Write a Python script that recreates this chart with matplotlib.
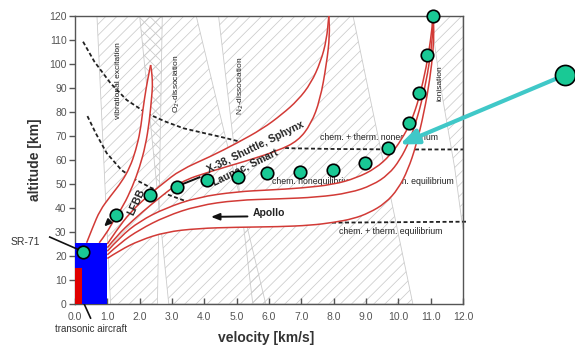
import numpy as np
import matplotlib
matplotlib.use('Agg')
import matplotlib.pyplot as plt
from matplotlib.patches import Polygon, Rectangle, PathPatch
from matplotlib.path import Path

plt.rcParams['font.family'] = ['Liberation Sans', 'DejaVu Sans']
plt.rcParams['hatch.linewidth'] = 0.55

# --- flight data points (velocity km/s, altitude km) ---
dots_v = [0.24, 1.27, 2.32, 3.15, 4.07, 5.05, 5.93, 6.96, 7.98, 8.97, 9.69, 10.33, 10.65, 10.9, 11.08]
dots_h = [21.8, 36.9, 45.4, 48.9, 51.7, 53.0, 54.4, 55.0, 55.8, 58.9, 64.9, 75.4, 87.8, 103.7, 120.0]

# --- corridor boundary lines ---
lfbb_left_v = [0.36, 0.55, 0.77, 1.1, 1.45, 1.7, 1.88, 2.02, 2.1, 2.2, 2.3, 2.34]
lfbb_left_h = [25.5, 32, 39, 45, 51, 57, 64, 72, 81, 90, 97, 99.6]
lfbb_right_v = [0.75, 0.98, 1.2, 1.5, 1.78, 2.0, 2.18, 2.3, 2.37, 2.4, 2.38, 2.34]
lfbb_right_h = [25.5, 29.5, 35, 41, 49, 57, 66, 76, 86, 91, 96, 99.6]

x38_up_v = [1.0, 1.3, 1.7, 2.2, 2.7, 3.25, 4.2, 5.0, 5.8, 6.4, 6.9, 7.3, 7.6, 7.78, 7.85]
x38_up_h = [25.0, 31.0, 38.0, 44.5, 50.0, 55.8, 61.5, 67.0, 73.0, 79.0, 85.0, 92.0, 101.0, 110.0, 120.0]
x38_lo_v = [1.0, 1.3, 1.8, 2.4, 3.25, 4.2, 5.3, 6.3, 6.9, 7.3, 7.58, 7.78, 7.88, 7.85]
x38_lo_h = [23.5, 28.5, 35.0, 42.0, 51.0, 55.3, 59.6, 64.0, 68.0, 75.0, 85.0, 100.0, 112.0, 120.0]

inner_v = [1.0, 1.4, 2.0, 2.8, 3.8, 5.0, 6.0, 7.0, 8.0, 8.7, 9.3, 9.75, 10.1, 10.4, 10.65, 10.87, 11.0, 11.08]
inner_h = [22.0, 28.0, 34.5, 40.0, 44.5, 46.8, 47.5, 48.3, 49.8, 52.5, 56.5, 62.0, 68.5, 76.0, 86.0, 99.0, 110.0, 120.0]
apollo_up_v = [1.0, 1.4, 2.0, 2.8, 3.8, 5.0, 6.3, 7.5, 8.5, 9.2, 9.7, 10.05, 10.35, 10.6, 10.82, 10.98, 11.06, 11.08]
apollo_up_h = [20.5, 25.5, 31.0, 36.5, 41.0, 43.3, 43.8, 44.5, 46.3, 49.5, 54.0, 60.0, 68.0, 78.0, 90.0, 102.0, 112.0, 120.0]
apollo_lo_v = [1.0, 1.4, 2.0, 2.8, 3.8, 5.0, 6.3, 7.3, 8.0, 8.6, 9.1, 9.6, 10.0, 10.3, 10.55, 10.8, 10.98, 11.08, 11.1, 11.08]
apollo_lo_h = [19.0, 22.5, 26.5, 30.0, 31.5, 32.0, 32.2, 32.8, 34.0, 35.5, 38.0, 42.0, 48.0, 56.0, 66.0, 80.0, 94.0, 106.0, 114.0, 120.0]

# --- regime boundaries (dashed) ---
dash_upper_v = [0.25, 0.6, 1.1, 1.6, 2.23, 2.8, 3.36, 4.0, 4.49, 5.0, 5.63, 6.2, 6.65, 8.0, 10.0, 12.0]
dash_upper_h = [109.3, 101.0, 92.0, 85.0, 79.4, 76.0, 73.2, 71.2, 69.7, 68.0, 66.3, 65.4, 64.9, 64.6, 64.4, 64.4]
dash_left_v = [0.385, 0.645, 0.985, 1.44, 1.89, 2.34, 2.91, 3.4, 3.85]
dash_left_h = [78.3, 71.1, 62.8, 55.8, 51.7, 48.5, 45.4, 43.0, 41.0]
dash_right_v = [7.95, 10.0, 12.1]
dash_right_h = [33.9, 34.1, 34.3]

# --- physical regime bands (hatched) ---
bands = {
    'vib': ([0.68, 2.7, 2.55, 1.1], [120, 120, 0, 0]),
    'o2': ([2.0, 3.75, 5.9, 2.9], [120, 120, 0, 0]),
    'n2': ([4.44, 8.6, 10.45, 5.5], [120, 120, 0, 0]),
    'ion': ([11.0, 12.0, 12.0, 11.74, 11.29], [120, 120, 31, 57, 92]),
}


def curve_parts(v, h):
    """Quadratic bezier path through the midpoints of the given points."""
    pts = np.column_stack([v, h]).astype(float)
    verts = [pts[0]]
    codes = [Path.MOVETO]
    for i in range(1, len(pts) - 1):
        verts += [pts[i], (pts[i] + pts[i + 1]) / 2]
        codes += [Path.CURVE3, Path.CURVE3]
    verts.append(pts[-1])
    codes.append(Path.LINETO)
    return verts, codes


def curve(v, h):
    verts, codes = curve_parts(v, h)
    return Path(verts, codes)


fig = plt.figure(figsize=(5.75, 3.49), dpi=100)
ax = fig.add_axes([0.1304, 0.1289, 0.6748, 0.8252])
ax.set_xlim(0, 12)
ax.set_ylim(0, 120)

for name, (bv, bh) in bands.items():
    ax.add_patch(Polygon(np.column_stack([bv, bh]), closed=True, facecolor='none',
                         edgecolor='#cbcbcb', hatch='///', linewidth=0.6, zorder=1))
# cross-hatch where vibrational and O2 regions overlap
ax.add_patch(Polygon([[2.0, 120], [2.7, 120], [2.62, 40], [2.6, 40]], closed=True,
                     facecolor='none', edgecolor='#cbcbcb', hatch='\\\\\\', linewidth=0, zorder=1))

ax.text(1.36, 93, 'vibrational excitation', rotation=90, fontsize=6, ha='center', va='center', color='#222', zorder=2)
ax.text(3.15, 92, 'O$_2$-dissociation', rotation=90, fontsize=6, ha='center', va='center', color='#222', zorder=2)
ax.text(5.12, 91, 'N$_2$-dissociation', rotation=90, fontsize=6, ha='center', va='center', color='#222', zorder=2)
ax.text(11.3, 92, 'ionisation', rotation=90, fontsize=6, ha='center', va='center', color='#222', zorder=2)

ax.text(9.4, 69.5, 'chem. + therm. nonequilibrium', fontsize=6.3, ha='center', va='center', color='#222', zorder=2)
ax.text(6.08, 51.0, 'chem. nonequilibrium', fontsize=6.3, ha='left', va='center', color='#222', zorder=2)
ax.text(11.72, 51.0, 'chem. equilibrium', fontsize=6.3, ha='right', va='center', color='#222', zorder=2)
ax.text(9.75, 30.4, 'chem. + therm. equilibrium', fontsize=6.3, ha='center', va='center', color='#222', zorder=2)

dash_kw = dict(color='#222', lw=1.3, dashes=(2.2, 1.4), zorder=2.5)
ax.plot(dash_upper_v, dash_upper_h, **dash_kw)
ax.plot(dash_left_v, dash_left_h, **dash_kw)
ax.plot(dash_right_v, dash_right_h, clip_on=False, **dash_kw)


# white corridors
def corridor(av, ah, bv, bh):
    va_, ca = curve_parts(av, ah)
    vb, cb = curve_parts(bv[::-1], bh[::-1])
    cb[0] = Path.LINETO
    path = Path(va_ + vb + [va_[0]], ca + cb + [Path.CLOSEPOLY])
    ax.add_patch(PathPatch(path, facecolor='white', edgecolor='none', zorder=3))


corridor(lfbb_left_v, lfbb_left_h, lfbb_right_v, lfbb_right_h)
corridor(x38_up_v, x38_up_h, x38_lo_v, x38_lo_h)
corridor(inner_v, inner_h, apollo_lo_v, apollo_lo_h)

red = '#d23a36'
for lv, lh in [(lfbb_left_v, lfbb_left_h), (lfbb_right_v, lfbb_right_h),
               (x38_up_v, x38_up_h), (x38_lo_v, x38_lo_h),
               (inner_v, inner_h), (apollo_up_v, apollo_up_h), (apollo_lo_v, apollo_lo_h)]:
    ax.add_patch(PathPatch(curve(lv, lh), facecolor='none', edgecolor=red, lw=1.1, zorder=4))

# aircraft envelopes
ax.add_patch(Rectangle((0, 0), 1.0, 25.5, facecolor='#0000ff', edgecolor='none', zorder=5))
ax.add_patch(Rectangle((0, 0), 0.22, 15, facecolor='#e00000', edgecolor='none', zorder=5))

# labels of corridors
ax.text(5.6, 65.4, 'X-38, Shuttle, Sphynx', rotation=26, fontsize=7.5, fontweight='bold',
        ha='center', va='center', color='#222', zorder=6)
ax.text(5.25, 57.0, 'Launac, Smart', rotation=26, fontsize=7.5, fontweight='bold',
        ha='center', va='center', color='#222', zorder=6)
ax.text(1.9, 42.5, 'LFBB', rotation=65, fontsize=7.5, fontweight='bold',
        ha='center', va='center', color='#222', zorder=6)
ax.text(5.5, 37.8, 'Apollo', fontsize=7.5, fontweight='bold', ha='left', va='center', color='#222', zorder=6)
ax.annotate('', xy=(4.12, 36.3), xytext=(5.42, 36.5),
            arrowprops=dict(arrowstyle='-|>,head_length=0.5,head_width=0.2', color='#111', lw=1.4), zorder=6)
ax.annotate('', xy=(0.84, 31.5), xytext=(1.12, 35.2),
            arrowprops=dict(arrowstyle='-|>,head_length=0.4,head_width=0.18', color='#111', lw=1.4), zorder=6)
ax.plot([3.28, 3.85], [49.7, 52.8], color='#111', lw=1.4, zorder=6)

ax.plot(dots_v, dots_h, 'o', ms=9, mfc='#19c995', mec='black', mew=1.2, clip_on=False, zorder=7)

# outside annotations
ax.plot([-0.78, 0.12], [27.9, 22.6], color='#111', lw=1.2, clip_on=False, zorder=6)
ax.text(-2.0, 25.8, 'SR-71', fontsize=7.5, ha='left', va='center', color='#333')
ax.annotate('', xy=(0.1, 5.5), xytext=(0.52, -7.0), annotation_clip=False,
            arrowprops=dict(arrowstyle='-|>,head_length=0.45,head_width=0.18', color='#111', lw=1.2))
ax.text(0.5, -10.4, 'transonic aircraft', fontsize=7, ha='center', va='center', color='#333')

ax.annotate('', xy=(10.05, 66.5), xytext=(14.9, 94.0), annotation_clip=False, zorder=8,
            arrowprops=dict(arrowstyle='-|>,head_length=1.1,head_width=0.45', color='#40c8c8',
                            lw=3, shrinkA=0, shrinkB=0))
ax.plot([15.16], [95.4], 'o', ms=14.5, mfc='#19c995', mec='black', mew=1.2, clip_on=False, zorder=9)

# axes styling
ax.set_xticks(np.arange(0, 13, 1))
ax.set_xticklabels([f'{v:.1f}' for v in range(13)])
ax.set_yticks(np.arange(0, 121, 10))
ax.tick_params(axis='x', direction='in', length=4, width=1, colors='#555', labelsize=7.5, pad=6)
ax.tick_params(axis='y', direction='out', length=4, width=1, colors='#555', labelsize=7.5, pad=2)
for sp in ax.spines.values():
    sp.set_color('#555')
    sp.set_linewidth(1.0)
ax.set_xlabel('velocity [km/s]', fontsize=10, fontweight='bold', color='#333')
ax.set_ylabel('altitude [km]', fontsize=10, fontweight='bold', color='#333')
ax.xaxis.set_label_coords(0.492, -0.095)
ax.yaxis.set_label_coords(-0.085, 0.5)

fig.savefig('out.png', dpi=100)
